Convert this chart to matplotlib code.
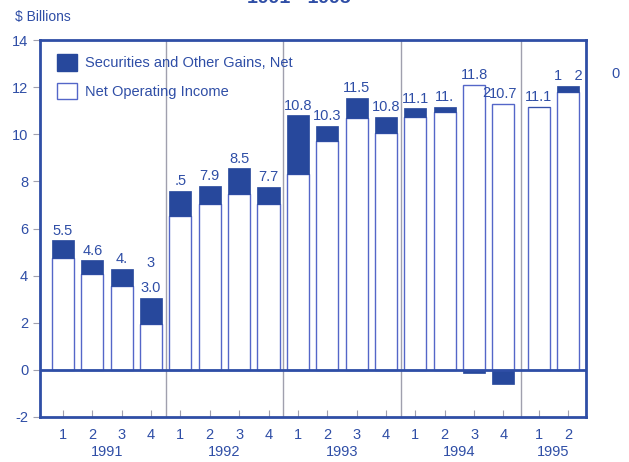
import numpy as np
import matplotlib.pyplot as plt
from matplotlib.patches import Patch
from matplotlib.transforms import blended_transform_factory

plt.rcParams['font.family'] = ['Liberation Sans', 'DejaVu Sans']
plt.rcParams['axes.unicode_minus'] = False

# 数据 (十亿美元)
quarters = ["1", "2", "3", "4"] * 4 + ["1", "2"]
years = ["1991", "1992", "1993", "1994", "1995"]
year_of = [0] * 4 + [1] * 4 + [2] * 4 + [3] * 4 + [4] * 2
net_operating = [4.75, 4.05, 3.55, 1.95, 6.55, 7.05, 7.45, 7.05, 8.3, 9.7,
                 10.7, 10.05, 10.75, 10.95, 12.1, 11.3, 11.15, 11.8]
gains = [0.75, 0.6, 0.75, 1.1, 1.05, 0.75, 1.1, 0.7, 2.5, 0.65,
         0.85, 0.7, 0.35, 0.2, -0.15, -0.6, 0.0, 0.25]
top_labels = ["5.5", "4.6", "4.", "3.0", ".5", "7.9", "8.5", "7.7", "10.8", "10.3",
              "11.5", "10.8", "11.1", "11.", "11.8", "10.7", "11.1", "1   2"]

blue = "#2f4ea6"
dark = "#27489c"
edge = "#5466c8"
grey = "#a0a0ae"

# 位置: 1995 稍微右移
x = np.arange(len(net_operating), dtype=float)
x[np.array(year_of) == 4] += 0.2
noi = np.array(net_operating)
g = np.array(gains)

fig = plt.figure(figsize=(6.29, 4.62), dpi=100)
ax = fig.add_axes([40 / 629, 1 - 417 / 462, 546 / 629, 377 / 462])

w = 0.75
ax.bar(x, noi, w, color="white", edgecolor=edge, linewidth=1, zorder=2)
bottom = np.where(g >= 0, noi, 0)
ax.bar(x, g, w, bottom=bottom, color=dark, edgecolor=dark, linewidth=0.5, zorder=3)

# 数值标签
for xi, n, gi, lab in zip(x, noi, g, top_labels):
    ax.annotate(lab, (xi, max(n, n + gi)), xytext=(0, 2), textcoords="offset points",
                ha="center", va="bottom", fontsize=10.5, color=blue, zorder=4)
# 扫描残留的字符
ax.annotate("3", (x[3], 4.25), ha="center", va="bottom", fontsize=10.5, color=blue)
ax.annotate("2", (x[15] - 0.6, 11.45), ha="center", va="bottom", fontsize=10.5, color=blue)

# 年份分隔线
for k in range(1, 5):
    idx = year_of.index(k)
    ax.axvline((x[idx - 1] + x[idx]) / 2, color=grey, lw=1, zorder=1)

ax.axhline(0, color=blue, lw=2, zorder=5)

ax.set_xlim(-0.78, x[-1] + 0.61)
ax.set_ylim(-2, 14)
ax.set_yticks(range(-2, 15, 2))
ax.set_xticks(x, quarters)
ax.tick_params(axis="x", direction="in", length=5, color=grey, labelcolor=blue,
               labelsize=10.5, pad=8)
ax.tick_params(axis="y", direction="out", length=5, color=grey, labelcolor=blue,
               labelsize=10.5)
for s in ax.spines.values():
    s.set_color(blue)
    s.set_linewidth(2)

tr = blended_transform_factory(ax.transData, ax.transAxes)
for k, yr in enumerate(years):
    xs = x[np.array(year_of) == k]
    ax.text(xs.mean(), -0.074, yr, transform=tr, ha="center", va="top",
            fontsize=10.5, color=blue)

leg = ax.legend(handles=[Patch(facecolor=dark, edgecolor=dark),
                         Patch(facecolor="white", edgecolor=edge)],
                labels=["Securities and Other Gains, Net", "Net Operating Income"],
                loc="upper left", bbox_to_anchor=(17 / 546, 1 - 14 / 377),
                frameon=False, fontsize=10.5, handlelength=1.4, handleheight=1.4,
                labelspacing=0.8, borderpad=0, borderaxespad=0, handletextpad=0.5)
for t in leg.get_texts():
    t.set_color(blue)

fig.text(15 / 629, 1 - 17 / 462, "$ Billions", fontsize=10, color=blue, va="center")
fig.text(615 / 629, 1 - 74 / 462, "0", fontsize=10.5, color=blue, ha="center", va="center")
fig.text(0.475, 1 - 3 / 462, "1991 - 1995", fontsize=14, fontweight="bold",
         color=blue, ha="center", va="baseline")

fig.savefig("out.png", dpi=100)
